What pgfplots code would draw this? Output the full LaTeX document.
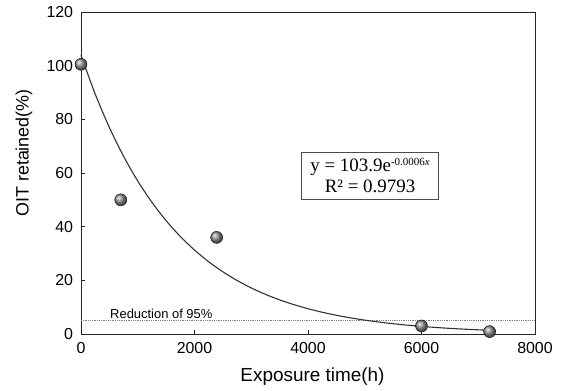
\documentclass[border=0pt]{standalone}
\usepackage{pgfplots}
\pgfplotsset{compat=1.18}
\usepackage{fontspec}
\setmainfont{Liberation Sans}
\newfontfamily\seriffont{Liberation Serif}
\begin{document}
\begin{tikzpicture}
\begin{axis}[
  at={(0,0)}, anchor=south west,
  width=454bp, height=322bp, scale only axis,
  xmin=0, xmax=8000, ymin=0, ymax=120,
  xtick={0,2000,4000,6000,8000}, ytick={0,20,40,60,80,100,120},
  tick align=inside, xtick pos=bottom, ytick pos=left,
  major tick length=4bp,
  scaled x ticks=false,
  xticklabel style={/pgf/number format/1000 sep={}, inner sep=0pt, anchor=north, yshift=-7.7bp},
  yticklabel style={inner sep=0pt, anchor=east, xshift=-7.7bp},
  /pgf/number format/assume math mode=true,
  tick label style={font=\fontsize{16}{16}\selectfont},
  axis line style={black!85, line width=0.9bp},
  tick style={black!85, line width=0.9bp},
  clip=false,
]
\addplot[gray, densely dotted, line width=0.8bp] coordinates {(0,5) (8000,5)};
\addplot[black!80, line width=1.1bp, smooth] coordinates {
(0,103.9) (250,89.43) (500,76.97) (750,66.25) (1000,57.02) (1250,49.08)
(1500,42.24) (1750,36.36) (2000,31.29) (2250,26.93) (2500,23.18)
(2750,19.95) (3000,17.17) (3250,14.78) (3500,12.72) (3750,10.95)
(4000,9.43) (4250,8.11) (4500,6.98) (4750,6.01) (5000,5.17) (5250,4.45)
(5500,3.83) (5750,3.30) (6000,2.84) (6250,2.44) (6500,2.10) (6750,1.81)
(7000,1.56) (7200,1.38)};
\addplot[only marks, mark=ball, mark options={ball color=gray!85}, mark size=6bp]
coordinates {(0,100.5) (700,50) (2390,36) (6000,3) (7200,0.9)};
\node[anchor=base west, inner sep=0pt, font=\fontsize{13}{13}\selectfont]
  at (axis cs:511,5.6) {Reduction of 95\%};
\node[draw=black!70, line width=0.8bp, fill=white, minimum width=137bp, minimum height=47bp,
  inner sep=2bp, align=center, font=\seriffont\fontsize{19}{21}\selectfont]
  at (axis cs:5093,59.1) {y = 103.9e\raisebox{0.6ex}{\fontsize{11}{11}\selectfont -0.0006\textit{x}}\\R² = 0.9793};
\end{axis}
\node[anchor=base, inner sep=0pt, font=\fontsize{19}{19}\selectfont] at (231.5bp,-47.7bp) {Exposure time(h)};
\node[rotate=90, inner sep=0pt, font=\fontsize{18}{18}\selectfont] at (-57bp,181bp) {OIT retained(\%)};
\pgfresetboundingbox
\useasboundingbox (-81bp,-57bp) rectangle (481bp,334bp);
\end{tikzpicture}
\end{document}
